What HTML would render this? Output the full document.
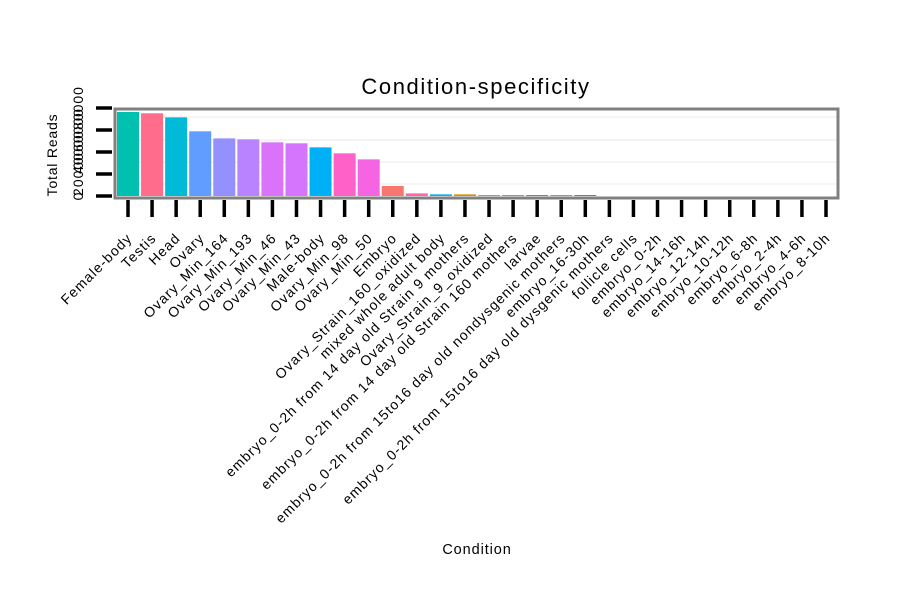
<!DOCTYPE html>
<html><head><meta charset="utf-8"><style>
body{margin:0;background:#fff}
text{font-family:"Liberation Sans",sans-serif}
</style></head><body>
<svg id="chart" width="900" height="600" xmlns="http://www.w3.org/2000/svg">
<text x="476" y="94" font-size="22" letter-spacing="1.6" text-anchor="middle">Condition-specificity</text>
<text x="477" y="554" font-size="14.5" letter-spacing="0.9" text-anchor="middle">Condition</text>
<text transform="translate(57,155) rotate(-90)" font-size="14" letter-spacing="0.8" text-anchor="middle">Total Reads</text>
<g id="grid"></g><g id="bars"></g><g id="yax"></g><g id="xax"></g>
<rect x="115" y="109" width="723" height="89" fill="none" stroke="#808080" stroke-width="3"/>
</svg>
<script>
const categories=["Female-body","Testis","Head","Ovary","Ovary_Min_164","Ovary_Min_193","Ovary_Min_46","Ovary_Min_43","Male-body","Ovary_Min_98","Ovary_Min_50","Embryo","Ovary_Strain_160_oxidized","mixed whole adult body","embryo_0-2h from 14 day old Strain 9 mothers","Ovary_Strain_9_oxidized","embryo_0-2h from 14 day old Strain 160 mothers","larvae","embryo_0-2h from 15to16 day old nondysgenic mothers","embryo_16-30h","embryo_0-2h from 15to16 day old dysgenic mothers","follicle cells","embryo_0-2h","embryo_14-16h","embryo_12-14h","embryo_10-12h","embryo_6-8h","embryo_2-4h","embryo_4-6h","embryo_8-10h"];
const values=[76400,75200,71500,58800,52400,51500,48800,47900,44200,38800,33300,9100,2400,1500,1500,900,900,900,900,900,0,0,0,0,0,0,0,0,0,0];
const colors=["#00C0AF","#FF6C8C","#00BAD8","#619CFF","#9590FF","#B983FF","#DB72FB","#D575FE","#00B0F6","#FF61C9","#F564E3","#F8766D","#FF65AC","#00B0F6","#D89000","#FF62BC","#E38900","#00ABFD","#BB9D00","#39B600","#888","#888","#888","#888","#888","#888","#888","#888","#888","#888"];
const yTicks=[0,20000,40000,60000,80000];
const yTickLabels=["0","20000","40000","60000","80000"];
const NS="http://www.w3.org/2000/svg";
const x0=128,dx=(826-128)/29,base=196,k=22/20000;
const xs=i=>x0+i*dx, ys=v=>base-v*k;
function mk(t,a,p){const e=document.createElementNS(NS,t);for(const n in a)e.setAttribute(n,a[n]);document.getElementById(p).appendChild(e);return e;}
[117,140,162,184].forEach(y=>{const g=mk('line',{x1:116,x2:837,y1:y,y2:y,stroke:'#f4f4f4','stroke-width':2},'grid');

});
values.forEach((v,i)=>{
 if(v>0){const r=mk('rect',{x:xs(i)-11,y:ys(v),width:22,height:v*k,fill:colors[i]},'bars');
 
 }
 const t=mk('line',{x1:xs(i),x2:xs(i),y1:200,y2:217,stroke:'#000','stroke-width':3.5},'xax');
 
 
 const l=mk('text',{transform:`translate(${xs(i)+5},239) rotate(-45)`,'font-size':14,'letter-spacing':'1.1','text-anchor':'end'},'xax');
 l.textContent=categories[i];
 
 
});
yTicks.forEach((v,i)=>{
 const t=mk('line',{x1:96,x2:112,y1:ys(v),y2:ys(v),stroke:'#000','stroke-width':3.5},'yax');
 
 
 const l=mk('text',{transform:`translate(83,${ys(v)}) rotate(-90)`,'font-size':14,'letter-spacing':'1','text-anchor':'middle'},'yax');
 l.textContent=yTickLabels[i];
 
 
});
</script>
</body></html>
